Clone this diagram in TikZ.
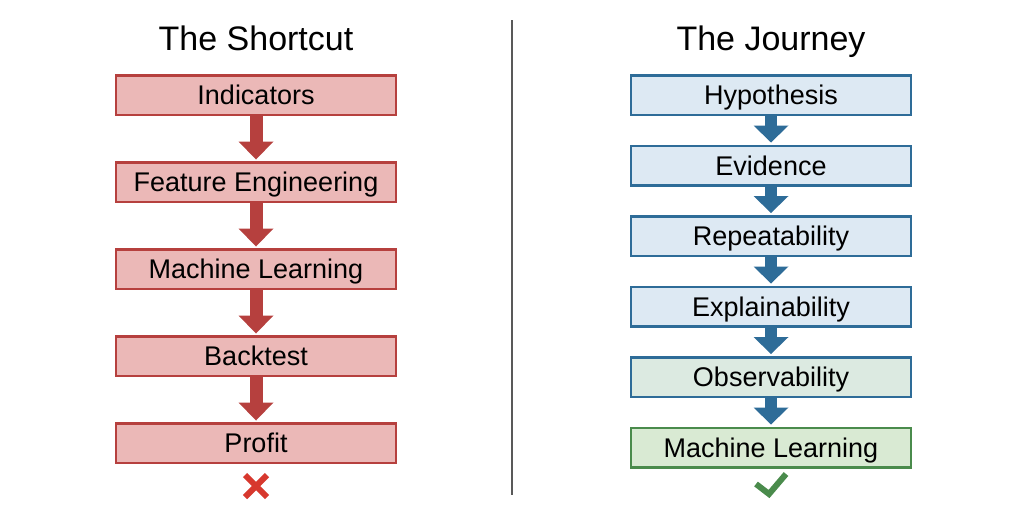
\documentclass[tikz,border=0pt]{standalone}
\usepackage{fontspec}
\setmainfont{Liberation Sans}
\usetikzlibrary{arrows.meta}

\definecolor{shortfill}{HTML}{EBB8B7}
\definecolor{shortline}{HTML}{B6403E}
\definecolor{journeyfill}{HTML}{DDE9F3}
\definecolor{journeyline}{HTML}{2E6C98}
\definecolor{obsfill}{HTML}{DCEAE1}
\definecolor{goodfill}{HTML}{D9EAD3}
\definecolor{goodline}{HTML}{4A8B4C}
\definecolor{crossred}{HTML}{D7382E}
\definecolor{dividergray}{HTML}{595959}

\begin{document}
\begin{tikzpicture}[x=1pt,y=1pt,
                title/.style={font=\fontsize{34}{40}\selectfont, inner sep=0pt,
                  text height=24.4pt, text depth=0pt},
                base node/.style={draw, line width=2.5pt, minimum width=280pt,
                  minimum height=39.5pt, inner sep=0pt, text height=19.3pt, text depth=0pt,
                  font=\fontsize{27}{32}\selectfont},
                short node/.style={base node, draw=shortline, fill=shortfill},
                journey node/.style={base node, draw=journeyline, fill=journeyfill},
                short arrow/.style={color=shortline, line width=13pt,
                  -{Triangle[width=35pt,length=18pt,line width=0pt]}, shorten >=1.5pt},
                journey arrow/.style={color=journeyline, line width=12pt,
                  -{Triangle[width=35pt,length=17pt,line width=0pt]}, shorten >=2pt}]

  \useasboundingbox (0,0) rectangle (1024,-504);

  % titles and divider
  \node[title] (shortcut) at (256,-38) {The Shortcut};
  \node[title] (journey) at (771,-38) {The Journey};
  \draw[dividergray, line width=1.8pt] (512,-20) -- (512,-495);

  % the shortcut
  \begin{scope}[node distance=87pt]
  \node[short node] (ind) at (256,-95) {Indicators};
  \node[short node] (feat) [below of=ind] {Feature Engineering};
  \node[short node] (ml) [below of=feat] {Machine Learning};
  \node[short node] (back) [below of=ml] {Backtest};
  \node[short node] (profit) [below of=back] {Profit};
  \end{scope}

  \path[short arrow]
    (ind) edge (feat)
    (feat) edge (ml)
    (ml) edge (back)
    (back) edge (profit);

  % the journey
  \begin{scope}[node distance=70.5pt]
  \node[journey node] (hyp) at (771,-95) {Hypothesis};
  \node[journey node] (evid) [below of=hyp] {Evidence};
  \node[journey node] (rep) [below of=evid] {Repeatability};
  \node[journey node] (expl) [below of=rep] {Explainability};
  \node[journey node, fill=obsfill] (obs) [below of=expl] {Observability};
  \node[base node, draw=goodline, fill=goodfill] (mlgood) [below of=obs] {Machine Learning};
  \end{scope}

  \path[journey arrow]
    (hyp) edge (evid)
    (evid) edge (rep)
    (rep) edge (expl)
    (expl) edge (obs)
    (obs) edge (mlgood);

  % verdicts
  \coordinate (bad) at (256,-486);
  \coordinate (good) at (771,-485);
  \draw[crossred, line width=6pt] ([shift={(-11,11)}]bad) -- ([shift={(11,-11)}]bad)
    ([shift={(-11,-11)}]bad) -- ([shift={(11,11)}]bad);
  \draw[goodline, line width=6pt, line join=miter]
    ([shift={(-15,1)}]good) -- ([shift={(-2,-9)}]good) -- ([shift={(15,11)}]good);
\end{tikzpicture}
\end{document}
